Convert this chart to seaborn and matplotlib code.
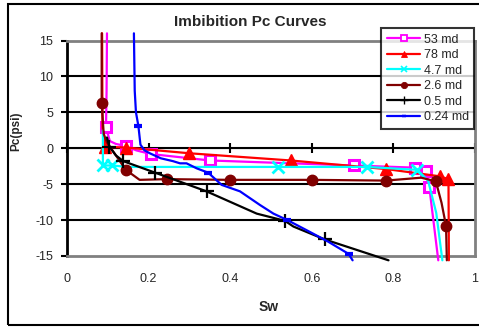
import matplotlib
matplotlib.use("Agg")
import matplotlib.pyplot as plt
import seaborn as sns
import pandas as pd
from matplotlib.lines import Line2D
from matplotlib.patches import Rectangle

sns.set_style("white")
plt.rcParams['font.family'] = ['Liberation Sans', 'DejaVu Sans']

# ---- data ----
labels = ["53 md", "78 md", "4.7 md", "2.6 md", "0.5 md", "0.24 md"]

sw_53 = [0.098, 0.097, 0.0956, 0.105, 0.12, 0.145, 0.17, 0.205, 0.35, 0.55, 0.703, 0.852, 0.88, 0.888, 0.91]
pc_53 = [16, 8, 2.9, 1.0, 0.6, 0.3, -0.3, -0.8, -1.7, -2.1, -2.4, -2.7, -3.2, -5.4, -15.6]
mk_53 = [2, 5, 7, 8, 10, 11, 12, 13]

sw_78 = [0.086, 0.087, 0.093, 0.145, 0.30, 0.548, 0.783, 0.913, 0.935, 0.936]
pc_78 = [16, 3, 0.2, 0.1, -0.7, -1.7, -2.9, -3.9, -4.3, -15.6]
mk_78 = [2, 3, 4, 5, 6, 7, 8]

sw_47 = [0.088, 0.088, 0.11, 0.15, 0.518, 0.735, 0.857, 0.885, 0.905, 0.92]
pc_47 = [2.5, -2.4, -2.4, -2.6, -2.6, -2.6, -3.0, -4.5, -9.0, -15.6]
mk_47 = [1, 2, 4, 5, 6]

sw_26 = [0.085, 0.085, 0.09, 0.097, 0.144, 0.178, 0.244, 0.40, 0.60, 0.782, 0.868, 0.904, 0.918, 0.929, 0.931]
pc_26 = [16, 6.25, 2.0, 0.9, -3.0, -4.4, -4.3, -4.4, -4.4, -4.5, -4.1, -4.6, -7.6, -10.8, -15.6]
mk_26 = [1, 4, 6, 7, 8, 9, 11, 13]

sw_05 = [0.098, 0.104, 0.12, 0.138, 0.216, 0.342, 0.465, 0.534, 0.555, 0.632, 0.788]
pc_05 = [1.5, 0.2, -1.0, -1.8, -3.4, -6.0, -9.1, -10.1, -10.9, -12.7, -15.6]
mk_05 = [1, 3, 4, 5, 7, 9]

sw_024 = [0.164, 0.166, 0.169, 0.175, 0.180, 0.190, 0.203, 0.23, 0.26, 0.277, 0.293, 0.318,
          0.346, 0.379, 0.424, 0.473, 0.506, 0.54, 0.587, 0.640, 0.69, 0.70]
pc_024 = [16, 8, 5, 3.1, 0.5, -0.3, -0.7, -1.4, -1.8, -2.1, -2.1, -2.8,
          -3.4, -5.1, -6.0, -7.9, -9.1, -10.0, -11.4, -13.0, -14.7, -15.6]
mk_024 = [3, 12, 17, 20]

x_ticks = [0, 0.2, 0.4, 0.6, 0.8, 1]
x_ticklabels = ["0", "0.2", "0.4", "0.6", "0.8", "1"]
y_ticks = [-15, -10, -5, 0, 5, 10, 15]

series = [
    (sw_53, pc_53, mk_53, dict(color="#FF00FF", marker="s", mfc="white", mec="#FF00FF", mew=2.2, ms=6.5)),
    (sw_78, pc_78, mk_78, dict(color="#FF0000", marker="^", mfc="#FF0000", mec="#FF0000", mew=1, ms=8)),
    (sw_47, pc_47, mk_47, dict(color="#00FFFF", marker="x", mfc="#00FFFF", mec="#00FFFF", mew=2, ms=8)),
    (sw_26, pc_26, mk_26, dict(color="#800000", marker="o", mfc="#800000", mec="#800000", mew=1, ms=7.5)),
    (sw_05, pc_05, mk_05, dict(color="black", marker="+", mfc="black", mec="black", mew=1.6, ms=10)),
    (sw_024, pc_024, mk_024, dict(color="#0000FF", marker="_", mfc="#0000FF", mec="#0000FF", mew=3, ms=6)),
]

fig = plt.figure(figsize=(4.79, 3.28), dpi=100)
fig.patch.set_facecolor("white")
ax = fig.add_axes([67 / 479, 1 - 256 / 328, 408 / 479, 215.5 / 328])

# gridlines
for yv in y_ticks[1:-1]:
    ax.axhline(yv, color="black", lw=1.5, zorder=1)

for (sw, pc, mk, st), lab in zip(series, labels):
    df = pd.DataFrame({"Sw": sw, "Pc": pc})
    sns.lineplot(data=df, x="Sw", y="Pc", ax=ax, sort=False, estimator=None,
                 color=st["color"], lw=1.6, marker=st["marker"], markevery=mk,
                 markerfacecolor=st["mfc"], markeredgecolor=st["mec"],
                 markeredgewidth=st["mew"], markersize=st["ms"],
                 clip_on=False, zorder=3, legend=False)

ax.set_xlim(0, 1)
ax.set_ylim(-15, 15)

# spines
for side in ["top", "bottom", "right"]:
    ax.spines[side].set_color("#808080")
    ax.spines[side].set_linewidth(2)
ax.spines["left"].set_color("black")
ax.spines["left"].set_linewidth(2)

ax.set_yticks(y_ticks)
ax.set_yticklabels([str(v) for v in y_ticks])
ax.tick_params(axis="y", direction="out", length=4, width=1.5, color="black",
               pad=6, labelsize=9, left=True)
ax.set_xticks(x_ticks)
ax.set_xticklabels(x_ticklabels)
ax.tick_params(axis="x", length=0, pad=12, labelsize=9)

# x axis crossing at Pc = 0 with tick marks
sec = ax.secondary_xaxis(0.5)
sec.set_xticks(x_ticks)
sec.set_xticklabels([])
sec.tick_params(direction="inout", length=7, width=1.5, color="black")
sec.spines["bottom"].set_color("black")
sec.spines["bottom"].set_linewidth(1.5)

ax.set_xlabel("Sw", fontsize=10, fontweight="bold")
ax.xaxis.set_label_coords((269 - 67) / 408, (256 - 300) / 215.5)
ax.set_ylabel("Pc(psi)", fontsize=8.5, fontweight="bold")
ax.yaxis.set_label_coords((22 - 67) / 408, (256 - 131) / 215.5)

fig.text(250 / 479, 1 - 22 / 328, "Imbibition Pc Curves", ha="center", va="center",
         fontsize=11, fontweight="bold")

# legend
handles = []
for (sw, pc, mk, st), lab in zip(series, labels):
    handles.append(Line2D([], [], color=st["color"], lw=1.6, marker=st["marker"],
                          mfc=st["mfc"], mec=st["mec"], mew=st["mew"] * 0.6,
                          ms=st["ms"] * 0.6, label=lab))
leg = fig.legend(handles=handles, loc="upper left",
                 bbox_to_anchor=(381 / 479, 1 - 28 / 328), frameon=True,
                 fancybox=False, fontsize=9, handlelength=2.7, handletextpad=0.25,
                 labelspacing=0.28, borderpad=0.45, borderaxespad=0)
leg.get_frame().set_edgecolor("black")
leg.get_frame().set_linewidth(1.5)
leg.get_frame().set_facecolor("white")

# outer chart border
fig.add_artist(Rectangle((8 / 479, 3 / 328), 480 / 479, 321 / 328,
                         transform=fig.transFigure, fill=False,
                         edgecolor="black", lw=1.5, clip_on=False))

fig.savefig("out.png", dpi=100, facecolor="white")
